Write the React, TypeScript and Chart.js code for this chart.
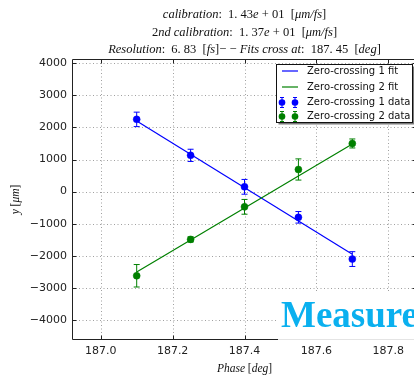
import React, { useEffect, useRef } from "react";
import { Chart, registerables } from "chart.js";

Chart.register(...registerables);

// Measured phases and positions
const PHASES = [187.1, 187.25, 187.4, 187.55, 187.7];
const ZC1_Y = [2250, 1130, 150, -800, -2100];
const ZC1_ERR = [225, 190, 230, 180, 230];
const ZC2_Y = [-2620, -1487, -473, 690, 1500];
const ZC2_ERR = [350, 80, 230, 330, 140];

// Linear fit end points
const FIT_X = [187.1, 187.7];
const FIT1_Y = [2200, -1950];
const FIT2_Y = [-2500, 1480];

const X_TICKS = [187.0, 187.2, 187.4, 187.6, 187.8];
const Y_TICKS = [-4000, -3000, -2000, -1000, 0, 1000, 2000, 3000, 4000];
const X_RANGE = [186.92, 187.88];
const Y_RANGE = [-4620, 4130];

const SERIES_LABELS = ["Zero-crossing 1 fit", "Zero-crossing 2 fit", "Zero-crossing 1 data", "Zero-crossing 2 data"];

const BLUE = "#0000ff";
const GREEN = "#008000";
const SERIES_COLORS = [BLUE, GREEN, BLUE, GREEN];
const SERIF = '"Liberation Serif", "DejaVu Serif", serif';
const SANS = '"DejaVu Sans", sans-serif';

type Seg = [string, boolean];

const TITLE_LINES: Seg[][] = [
  [["calibration", true], [":  1. 43", false], ["e", true], [" + 01  [", false], ["μm/fs", true], ["]", false]],
  [["2", false], ["nd calibration", true], [":  1. 37", false], ["e", true], [" + 01  [", false], ["μm/fs", true], ["]", false]],
  [["Resolution", true], [":  6. 83  [", false], ["fs", true], ["]− − ", false], ["Fits cross at", true], [":  187. 45  [", false], ["deg", true], ["]", false]],
];
const X_LABEL: Seg[] = [["Phase", true], [" [", false], ["deg", true], ["]", false]];
const Y_LABEL: Seg[] = [["y", true], [" [", false], ["μm", true], ["]", false]];
const WATERMARK = "Measure";

function drawSegs(ctx: CanvasRenderingContext2D, segs: Seg[], cx: number, cy: number, size: number) {
  const fontOf = (it: boolean) => `${it ? "italic " : ""}${size}px ${SERIF}`;
  let total = 0;
  for (const [t, it] of segs) {
    ctx.font = fontOf(it);
    total += ctx.measureText(t).width;
  }
  let x = cx - total / 2;
  ctx.textAlign = "left";
  ctx.textBaseline = "middle";
  for (const [t, it] of segs) {
    ctx.font = fontOf(it);
    ctx.fillText(t, x, cy);
    x += ctx.measureText(t).width;
  }
}

function errorBar(ctx: CanvasRenderingContext2D, x: number, yTop: number, yBot: number, color: string, cap: number) {
  ctx.strokeStyle = color;
  ctx.lineWidth = 1;
  ctx.beginPath();
  ctx.moveTo(x, yTop);
  ctx.lineTo(x, yBot);
  ctx.moveTo(x - cap, yTop);
  ctx.lineTo(x + cap, yTop);
  ctx.moveTo(x - cap, yBot);
  ctx.lineTo(x + cap, yBot);
  ctx.stroke();
}

const decorPlugin = {
  id: "decor",
  beforeDatasetsDraw(chart: any) {
    const { ctx, chartArea: a, scales } = chart;
    const xs = scales.x;
    const ys = scales.y;
    ctx.save();
    // dotted grid
    ctx.strokeStyle = "#a0a0a0";
    ctx.lineWidth = 1;
    ctx.setLineDash([1, 2.5]);
    for (const v of X_TICKS) {
      const px = Math.round(xs.getPixelForValue(v)) + 0.5;
      ctx.beginPath();
      ctx.moveTo(px, a.top);
      ctx.lineTo(px, a.bottom);
      ctx.stroke();
    }
    for (const v of Y_TICKS) {
      const py = Math.round(ys.getPixelForValue(v)) + 0.5;
      ctx.beginPath();
      ctx.moveTo(a.left, py);
      ctx.lineTo(a.right, py);
      ctx.stroke();
    }
    ctx.setLineDash([]);
    // error bars
    const sets: [number[], number[], string][] = [
      [ZC1_Y, ZC1_ERR, BLUE],
      [ZC2_Y, ZC2_ERR, GREEN],
    ];
    for (const [ys0, errs, col] of sets) {
      PHASES.forEach((p, i) => {
        const px = xs.getPixelForValue(p);
        errorBar(ctx, px, ys.getPixelForValue(ys0[i] + errs[i]), ys.getPixelForValue(ys0[i] - errs[i]), col, 3);
      });
    }
    ctx.restore();
  },
  afterDatasetsDraw(chart: any) {
    const { ctx, chartArea: a, scales } = chart;
    const xs = scales.x;
    const ys = scales.y;
    ctx.save();
    ctx.strokeStyle = "#222";
    ctx.lineWidth = 1;
    const L = Math.round(a.left) + 0.5;
    const T = Math.round(a.top) + 0.5;
    const B = Math.round(a.bottom) - 0.5;
    const R = Math.round(a.right) - 0.5;
    ctx.beginPath();
    ctx.moveTo(R, T);
    ctx.lineTo(L, T);
    ctx.lineTo(L, B);
    ctx.lineTo(R, B);
    ctx.lineTo(R, T);
    ctx.stroke();
    // inward ticks
    ctx.beginPath();
    for (const v of X_TICKS) {
      const px = Math.round(xs.getPixelForValue(v)) + 0.5;
      ctx.moveTo(px, T);
      ctx.lineTo(px, T + 4);
      ctx.moveTo(px, B);
      ctx.lineTo(px, B - 4);
    }
    for (const v of Y_TICKS) {
      const py = Math.round(ys.getPixelForValue(v)) + 0.5;
      ctx.moveTo(L, py);
      ctx.lineTo(L + 4, py);
      ctx.moveTo(R, py);
      ctx.lineTo(R - 4, py);
    }
    ctx.stroke();
    ctx.restore();
  },
  afterDraw(chart: any) {
    const { ctx, chartArea: a } = chart;
    const cx = (a.left + a.right) / 2;
    ctx.save();
    ctx.fillStyle = "#111";
    // title
    TITLE_LINES.forEach((segs, i) => drawSegs(ctx, segs, cx, 15 + i * 17.5, 12.5));
    // axis labels
    drawSegs(ctx, X_LABEL, cx, 369, 11.5);
    ctx.save();
    ctx.translate(16, (a.top + a.bottom) / 2);
    ctx.rotate(-Math.PI / 2);
    drawSegs(ctx, Y_LABEL, 0, 0, 11.5);
    ctx.restore();

    // legend
    const lx = 276.5, ly = 64.5, lw = 136, lh = 58;
    ctx.fillStyle = "#7a7a7a";
    ctx.fillRect(lx + 2, ly + 2, lw, lh);
    ctx.fillStyle = "#fff";
    ctx.fillRect(lx, ly, lw, lh);
    ctx.strokeStyle = "#111";
    ctx.lineWidth = 1;
    ctx.strokeRect(lx, ly, lw, lh);
    const rows = [71, 87, 102.5, 116.5];
    rows.forEach((ry, i) => {
      const col = SERIES_COLORS[i];
      if (i < 2) {
        ctx.strokeStyle = col;
        ctx.lineWidth = 1.2;
        ctx.beginPath();
        ctx.moveTo(282, ry);
        ctx.lineTo(298, ry);
        ctx.stroke();
      } else {
        for (const mx of [282, 295]) {
          errorBar(ctx, mx, ry - 5, ry + 5, col, 2);
          ctx.fillStyle = col;
          ctx.beginPath();
          ctx.arc(mx, ry, 3.3, 0, Math.PI * 2);
          ctx.fill();
        }
      }
      ctx.fillStyle = "#111";
      ctx.font = `10px ${SANS}`;
      ctx.textAlign = "left";
      ctx.textBaseline = "middle";
      ctx.fillText(SERIES_LABELS[i], 307, ry);
    });

    // watermark
    ctx.fillStyle = "#fff";
    ctx.fillRect(278, 291, 150, 50);
    ctx.strokeStyle = "#e4e4e4";
    ctx.lineWidth = 1;
    ctx.beginPath();
    ctx.moveTo(278, 339.5);
    ctx.lineTo(428, 339.5);
    ctx.stroke();
    ctx.fillStyle = "#0ab0ef";
    ctx.font = `bold 37px "Liberation Serif", serif`;
    ctx.textAlign = "left";
    ctx.textBaseline = "alphabetic";
    ctx.fillText(WATERMARK, 281, 327);
    ctx.restore();
  },
};

export default function App() {
  const ref = useRef<HTMLCanvasElement>(null);
  useEffect(() => {
    const canvas = ref.current;
    if (!canvas) return;
    const chart = new Chart(canvas, {
      type: "scatter",
      data: {
        datasets: [
          {
            label: SERIES_LABELS[0],
            data: FIT_X.map((x, i) => ({ x, y: FIT1_Y[i] })),
            showLine: true,
            borderColor: BLUE,
            backgroundColor: BLUE,
            borderWidth: 1.2,
            pointRadius: 0,
            order: 3,
          },
          {
            label: SERIES_LABELS[1],
            data: FIT_X.map((x, i) => ({ x, y: FIT2_Y[i] })),
            showLine: true,
            borderColor: GREEN,
            backgroundColor: GREEN,
            borderWidth: 1.2,
            pointRadius: 0,
            order: 2,
          },
          {
            label: SERIES_LABELS[2],
            data: PHASES.map((x, i) => ({ x, y: ZC1_Y[i] })),
            showLine: false,
            borderColor: BLUE,
            backgroundColor: BLUE,
            pointRadius: 3.5,
            pointBorderWidth: 0.5,
            order: 1,
          },
          {
            label: SERIES_LABELS[3],
            data: PHASES.map((x, i) => ({ x, y: ZC2_Y[i] })),
            showLine: false,
            borderColor: GREEN,
            backgroundColor: GREEN,
            pointRadius: 3.5,
            pointBorderWidth: 0.5,
            order: 0,
          },
        ],
      },
      options: {
        animation: false,
        responsive: false,
        events: [],
        layout: { padding: { top: 59, left: 0, right: 7, bottom: 0 } },
        plugins: { legend: { display: false }, tooltip: { enabled: false }, title: { display: false } },
        scales: {
          x: {
            type: "linear",
            min: X_RANGE[0],
            max: X_RANGE[1],
            grid: { display: false, drawTicks: false },
            border: { display: false },
            afterBuildTicks: (s: any) => {
              s.ticks = X_TICKS.map((value) => ({ value }));
            },
            afterFit: (s: any) => {
              s.height = 39;
            },
            ticks: {
              padding: 5,
              color: "#222",
              font: { family: SANS, size: 11 },
              maxRotation: 0,
              callback: (v: any) => Number(v).toFixed(1),
            },
          },
          y: {
            type: "linear",
            min: Y_RANGE[0],
            max: Y_RANGE[1],
            grid: { display: false, drawTicks: false },
            border: { display: false },
            afterBuildTicks: (s: any) => {
              s.ticks = Y_TICKS.map((value) => ({ value }));
            },
            afterFit: (s: any) => {
              s.width = 72;
            },
            ticks: {
              padding: 5,
              color: "#222",
              font: { family: SANS, size: 11 },
              callback: (v: any) => (Number(v) < 0 ? "\u2212" + Math.abs(Number(v)) : String(v)),
            },
          },
        },
      },
      plugins: [decorPlugin],
    });
    return () => chart.destroy();
  }, []);

  return (
    <div style={{ position: "absolute", left: 0, top: 0, width: 414, height: 379, overflow: "hidden", background: "#fff" }}>
      <canvas ref={ref} width={424} height={379} style={{ width: 424, height: 379, display: "block" }} />
    </div>
  );
}
